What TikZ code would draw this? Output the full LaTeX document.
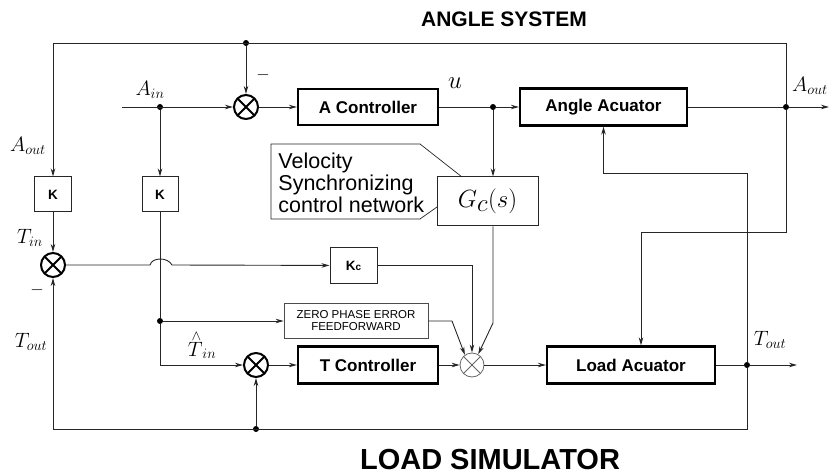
\documentclass[tikz,border=0pt]{standalone}
\usepackage{fontspec}
\setmainfont{Liberation Serif}
\setsansfont{Liberation Sans}
\usetikzlibrary{arrows.meta,positioning,calc}

\begin{document}
\begin{tikzpicture}[x=1pt, y=-1pt, line width=0.9pt, draw=black!85,
    sig/.style={-{Stealth[length=8pt,width=4.5pt,inset=2.5pt]}},
    blk/.style={draw=black, line width=2.2pt, inner sep=0pt,
      font=\sffamily\bfseries\fontsize{17}{19}\selectfont},
    gain/.style={draw=black!85, line width=1pt, inner sep=0pt,
      minimum width=37pt, minimum height=35pt,
      font=\sffamily\bfseries\fontsize{13.5}{15}\selectfont},
    sum/.style={circle, draw=black, line width=2pt, minimum size=24pt, inner sep=0pt,
      path picture={\draw[line width=2pt]
        (path picture bounding box.south west) -- (path picture bounding box.north east)
        (path picture bounding box.north west) -- (path picture bounding box.south east);}},
    thinsum/.style={circle, draw=black!60, line width=0.8pt, minimum size=24pt, inner sep=0pt,
      path picture={\draw[black!60, line width=0.8pt]
        (path picture bounding box.south west) -- (path picture bounding box.north east)
        (path picture bounding box.north west) -- (path picture bounding box.south east);}},
    dot/.style={circle, fill=black, inner sep=0pt, minimum size=6pt},
    lbl/.style={font=\fontsize{20}{22}\selectfont}]

  \useasboundingbox (0,0) rectangle (831,476);

  % Titles
  \node[font=\sffamily\bfseries\fontsize{21}{24}\selectfont] (angTitle) at (504,19) {ANGLE SYSTEM};
  \node[font=\sffamily\bfseries\fontsize{29}{32}\selectfont] (loadTitle) at (490,460) {LOAD SIMULATOR};

  % Angle loop blocks
  \node[sum] (sumA) at (246,107) {};
  \node[blk, minimum width=140pt, minimum height=36pt] (aCtrl) at (368,107) {A Controller};
  \node[blk, minimum width=167pt, minimum height=37pt] (aAct) at (603.5,107) {Angle Acuator};
  \node[draw=black!85, line width=1pt, minimum width=101pt, minimum height=49pt, inner sep=0pt,
    font=\fontsize{40}{42}\selectfont] (gc) at (487.5,201.5) {$G_c(s)$};

  % Gains and cross coupling
  \node[gain] (k1) at (53,194.5) {K};
  \node[gain, minimum width=36pt] (k2) at (160,194.5) {K};
  \node[sum] (sumT) at (53,265) {};
  \node[gain, minimum width=47pt] (kc) at (353.5,265.5) {K{\fontsize{10}{12}\selectfont c}};
  \node[draw=black!70, line width=0.7pt, minimum width=144pt, minimum height=35pt, inner sep=0pt,
    align=center, font=\sffamily\fontsize{11.5}{11.5}\selectfont] (zpef) at (356,320.5)
    {ZERO PHASE ERROR\\FEEDFORWARD};

  % Load loop blocks
  \node[sum] (sumB) at (256,365) {};
  \node[blk, minimum width=140pt, minimum height=37pt] (tCtrl) at (368,365) {T Controller};
  \node[thinsum] (sumL) at (472,365) {};
  \node[blk, minimum width=168pt, minimum height=37pt] (lAct) at (631,365) {Load Acuator};

  % Callout
  \draw[line width=0.7pt] (420,144) -- (271,144) -- (271,219) -- (420,219) -- (437,207);
  \draw[line width=0.7pt] (420,144) -- (462,177);
  \node[anchor=north west, inner sep=0pt, align=left,
    font=\sffamily\fontsize{21.5}{22}\selectfont] (vscText) at (278,152)
    {Velocity\\Synchronizing\\control network};

  % Junctions
  \coordinate (topL) at (53,43);
  \node[dot] (topJ) at (246,43) {};
  \node[dot] (aoJ) at (786,107) {};
  \coordinate (aoEnd) at (829,107);
  \coordinate (aoDn) at (786,232);
  \coordinate (ain) at (122,107);
  \node[dot] (ainJ) at (160,107) {};
  \node[dot] (uJ) at (493,107) {};
  \node[dot] (ffJ) at (160,321) {};
  \coordinate (hopA) at (150,265);
  \coordinate (hopB) at (172,265);
  \coordinate (gcBend) at (493,323);
  \coordinate (zpBend) at (452,321);
  \node[dot] (toJ) at (747,365) {};
  \coordinate (toEnd) at (797,365);
  \coordinate (toUp) at (747,173);
  \coordinate (botR) at (747,429);
  \coordinate (botL) at (53,429);
  \node[dot] (botJ) at (256,429) {};

  % Angle loop signals
  \draw[sig] (ain) -- (sumA);
  \draw[sig] (topJ) -- (sumA);
  \draw[sig] (sumA) -- (aCtrl);
  \draw (aCtrl) -- (uJ);
  \draw[sig] (uJ) -- (aAct);
  \draw[sig] (uJ) -- (uJ |- gc.north);
  \draw (aAct) -- (aoJ);
  \draw[sig] (aoJ) -- (aoEnd);
  \draw[sig] (aoJ) |- (topL) -- (k1);
  \draw[sig] (aoJ) -- (aoDn) -| ([xshift=10pt]lAct.north);

  % Cross coupling signals
  \draw[sig] (k1) -- (sumT);
  \draw[sig] (sumT) -- (hopA) .. controls (152,257) and (168,257) .. (hopB) -- (kc);
  \draw[sig] (kc) -| (sumL);
  \draw[sig] (uJ |- gc.south) -- (gcBend) -- (sumL.60);
  \draw[sig] (zpef.east |- zpBend) -- (zpBend) -- (sumL.125);
  \draw[sig] (ainJ) -- (k2);
  \draw (k2) -- (ffJ);
  \draw[sig] (ffJ) -- (zpef.west |- ffJ);
  \draw[sig] (ffJ) |- (sumB);

  % Load loop signals
  \draw[sig] (sumB) -- (tCtrl);
  \draw[sig] (tCtrl) -- (sumL);
  \draw[sig] (sumL) -- (lAct);
  \draw (lAct) -- (toJ);
  \draw[sig] (toJ) -- (toEnd);
  \draw[sig] (toJ) -- (toUp) -| (aAct);
  \draw (toJ) -- (botR) -- (botL);
  \draw[sig] (botL) -- (sumT);
  \draw[sig] (botJ) -- (sumB);

  % Signal labels
  \node[lbl] (lAin) at (150,90) {$A_{in}$};
  \node[lbl] (lAoutL) at (28,146) {$A_{out}$};
  \node[lbl] (lAoutR) at (810,86) {$A_{out}$};
  \node[font=\fontsize{24}{26}\selectfont] (lU) at (455,83) {$u$};
  \node[lbl] (lTin) at (30,238) {$T_{in}$};
  \node[lbl] (lToutL) at (31,342) {$T_{out}$};
  \node[lbl] (lToutR) at (770,340) {$T_{out}$};
  \node[lbl] (lTinHat) at (202,345) {$\stackrel{\wedge}{T}_{in}$};
  \node[font=\fontsize{16}{18}\selectfont] (mA) at (263,75) {$-$};
  \node[font=\fontsize{16}{18}\selectfont] (mT) at (37,290) {$-$};

\end{tikzpicture}
\end{document}
